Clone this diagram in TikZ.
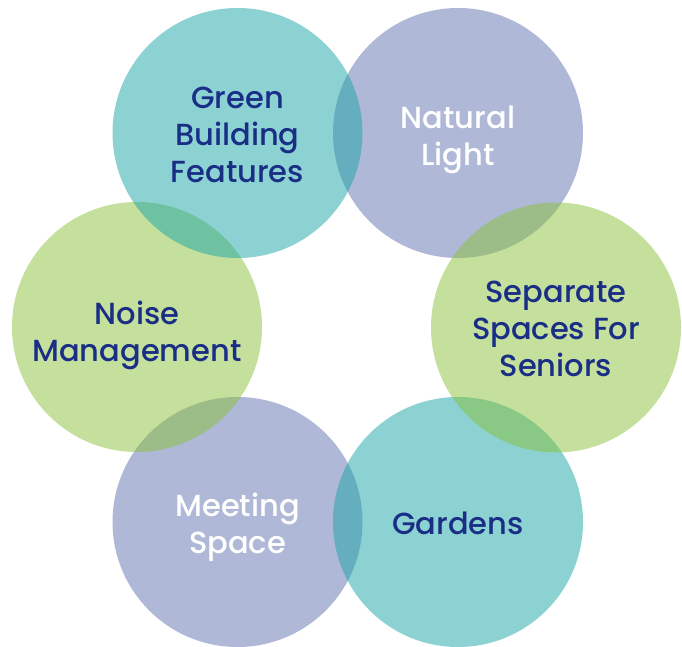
\documentclass[tikz,border=0pt]{standalone}
\usepackage{fontspec}
\setmainfont{Poppins}[UprightFont=* Medium]
\usepackage{tikz}

\definecolor{bubbleteal}{HTML}{19A5A7}
\definecolor{bubblelav}{HTML}{6171B1}
\definecolor{bubblegreen}{HTML}{89C139}
\definecolor{labelnavy}{HTML}{1A2E86}

\tikzset{
  bubble/.style={circle, minimum size=250pt, inner sep=0pt, fill opacity=0.5},
  bubbletext/.style={align=center, inner sep=0pt, font=\fontsize{30.5}{37}\selectfont},
  darklabel/.style={bubbletext, text=labelnavy},
  lightlabel/.style={bubbletext, text=white}
}

\begin{document}
\begin{tikzpicture}[x=1pt, y=-1pt]
\useasboundingbox (0,0) rectangle (682,647);

% Circles, bottom one first so the overlaps come out right
\node[bubble, fill=bubblelav] (meeting) at (237.5,522) {};
\node[bubble, fill=bubblegreen] (noise) at (137,327) {};
\node[bubble, fill=bubblelav] (natural) at (458,133) {};
\node[bubble, fill=bubbleteal] (greenbuild) at (237.5,133) {};
\node[bubble, fill=bubbleteal] (gardens) at (458,522) {};
\node[bubble, fill=bubblegreen] (seniors) at (556,327.5) {};

% Labels
\node[darklabel] (greenbuildtext) at ([yshift=-2pt]greenbuild.center) {Green\\Building\\Features};
\node[lightlabel] (naturaltext) at ([yshift=-6.5pt]natural.center) {Natural\\Light};
\node[darklabel] (seniorstext) at ([yshift=-1.5pt]seniors.center) {Separate\\Spaces For\\Seniors};
\node[darklabel] (gardenstext) at ([yshift=-1pt]gardens.center) {Gardens};
\node[lightlabel] (meetingtext) at ([yshift=-5pt]meeting.center) {Meeting\\Space};
\node[darklabel] (noisetext) at ([yshift=-8pt]noise.center) {Noise\\Management};
\end{tikzpicture}
\end{document}
